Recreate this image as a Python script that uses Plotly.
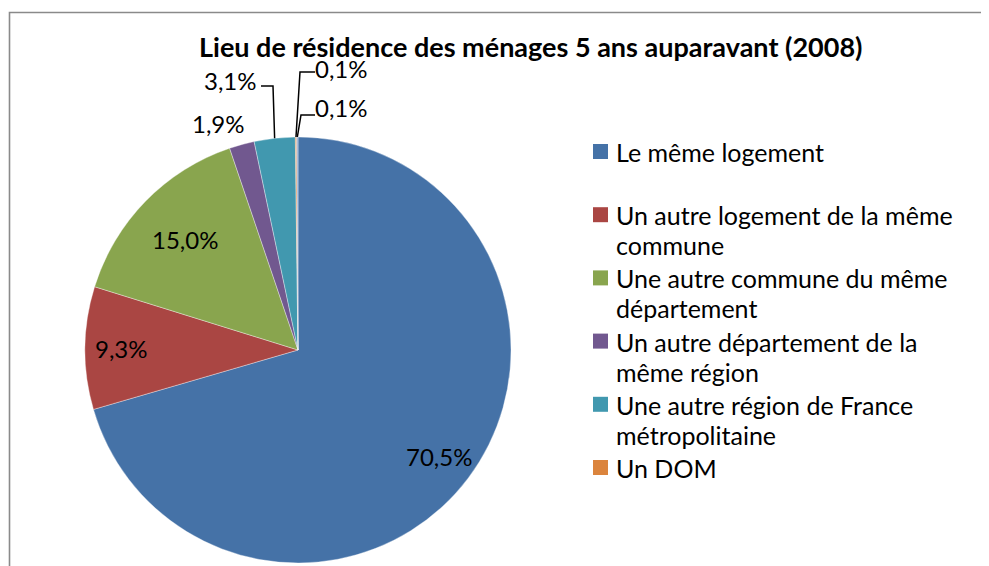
import math
import plotly.graph_objects as go

# ---- data ----
categories = [
    "Le même logement",
    "Un autre logement de la même commune",
    "Une autre commune du même département",
    "Un autre département de la même région",
    "Une autre région de France métropolitaine",
    "Un DOM",
    "Hors de France",
]
legend_lines = [
    ["Le même logement"],
    ["Un autre logement de la même", "commune"],
    ["Une autre commune du même", "département"],
    ["Un autre département de la", "même région"],
    ["Une autre région de France", "métropolitaine"],
    ["Un DOM"],
]
values = [70.5, 9.3, 15.0, 1.9, 3.1, 0.1, 0.1]
colors = ["#4572A7", "#AA4643", "#89A54E", "#71588F", "#4198AF", "#DB843D", "#93A9CF"]
title = "Lieu de résidence des ménages 5 ans auparavant (2008)"

# ---- layout constants (pixels, in page coordinates) ----
OFF = 8                      # default page body margin
W, H = 989 - OFF, 566 - OFF
CX, CY, R = 298, 350, 213
FONT = "Lato"


def X(px):
    return (px - OFF) / W


def Y(py):
    return 1 - (py - OFF) / H


labels_txt = [f"{v:.1f}".replace(".", ",") + "%" for v in values]
total = sum(values)


def polar_point(i, frac):
    before = sum(values[:i])
    a = 2 * math.pi * (before + values[i] / 2) / total
    return CX + frac * R * math.sin(a), CY - frac * R * math.cos(a)


fig = go.Figure()
fig.add_trace(go.Pie(
    labels=categories,
    values=values,
    text=labels_txt,
    textinfo="none",
    marker=dict(colors=colors, line=dict(color="rgba(255,255,255,0.6)", width=0.6)),
    sort=False,
    direction="clockwise",
    rotation=0,
    showlegend=False,
    hoverinfo="label+text",
    domain=dict(x=[X(CX - R), X(CX + R)], y=[Y(CY + R), Y(CY - R)]),
))

annotations = []
shapes = []

# title
annotations.append(dict(x=X(530), y=Y(47), xref="paper", yref="paper", text=f"<b>{title}</b>",
                        showarrow=False, font=dict(family=FONT, size=27, color="black"),
                        xanchor="center", yanchor="middle"))

# inside data labels, placed along each slice's bisector
inside_frac = {0: 0.83, 1: 0.83, 2: 0.74}
for idx, frac in inside_frac.items():
    px, py = polar_point(idx, frac)
    annotations.append(dict(x=X(px), y=Y(py), xref="paper", yref="paper", text=labels_txt[idx],
                            showarrow=False, font=dict(family=FONT, size=24, color="black"),
                            xanchor="center", yanchor="middle"))

# outside data labels: (index, label centre px, leader elbow list)
outside = [
    (3, (218, 124), None),
    (4, (230, 81), [(261, 86), (273, 86)]),
    (5, (341, 68), [(315, 72), (300, 72)]),
    (6, (341, 107), [(315, 115), (301, 115)]),
]
for idx, (lx, ly), elbow in outside:
    annotations.append(dict(x=X(lx), y=Y(ly), xref="paper", yref="paper", text=labels_txt[idx],
                            showarrow=False, font=dict(family=FONT, size=24, color="black"),
                            xanchor="center", yanchor="middle"))
    if elbow:
        ex, ey = polar_point(idx, 1.0)
        pts = elbow + [(ex, ey)]
        path = "M " + " L ".join(f"{X(px)},{Y(py)}" for px, py in pts)
        shapes.append(dict(type="path", xref="paper", yref="paper", path=path,
                           line=dict(color="black", width=1.5)))

# custom legend
LEG_Y0, LEG_STEP, LINE_H = 152, 63.2, 30
for i, lines in enumerate(legend_lines):
    yc = LEG_Y0 + i * LEG_STEP
    shapes.append(dict(type="rect", xref="paper", yref="paper",
                       x0=X(593), x1=X(608), y0=Y(yc - 8), y1=Y(yc + 7),
                       fillcolor=colors[i], line=dict(width=0)))
    for k, ln in enumerate(lines):
        annotations.append(dict(x=X(614), y=Y(yc + k * LINE_H), xref="paper", yref="paper",
                                text=ln, showarrow=False,
                                font=dict(family=FONT, size=25, color="black"),
                                xanchor="left", yanchor="middle"))

# chart frame
shapes.append(dict(type="rect", xref="paper", yref="paper", x0=X(9.5), x1=X(1000),
                   y0=Y(12.5), y1=Y(620), line=dict(color="#8A8A8A", width=1.6),
                   fillcolor="rgba(0,0,0,0)", layer="below"))

fig.update_layout(
    width=W, height=H,
    margin=dict(l=0, r=0, t=0, b=0),
    paper_bgcolor="white",
    plot_bgcolor="white",
    annotations=annotations,
    shapes=shapes,
    font=dict(family=FONT),
)

fig.write_html("out.html")
